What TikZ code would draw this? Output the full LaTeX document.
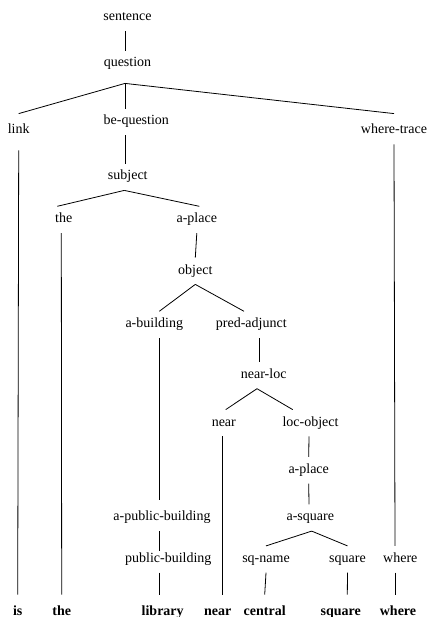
\documentclass[tikz,border=0pt]{standalone}
\usepackage{fontspec}
\setmainfont{Liberation Serif}
\begin{document}
\begin{tikzpicture}[x=1pt,y=-1pt,line width=0.8pt,
  font=\fontsize{14}{16}\selectfont,
  cat/.style={anchor=base,inner xsep=0pt,inner ysep=6pt,text height=10pt,text depth=4pt},
  word/.style={cat,inner ysep=10pt,font=\fontsize{14}{16}\selectfont\bfseries}]
\useasboundingbox (0,0) rectangle (427,617);
% categories
\node[cat] (sentence) at (127.5,21) {sentence};
\node[cat] (question) at (127.5,67) {question};
\node[cat] (link) at (18.7,134) {link};
\node[cat] (bequestion) at (136.3,125) {be-question};
\node[cat] (wheretrace) at (394,134) {where-trace};
\node[cat] (subject) at (127.8,180) {subject};
\node[cat] (the) at (63.7,222.7) {the};
\node[cat] (aplace) at (196.8,222.7) {a-place};
\node[cat] (object) at (195.3,274) {object};
\node[cat] (abuilding) at (154.3,327.7) {a-building};
\node[cat] (predadj) at (251.3,327.7) {pred-adjunct};
\node[cat] (nearloc) at (263.7,378.3) {near-loc};
\node[cat] (near) at (223.8,426) {near};
\node[cat] (locobj) at (310.5,426) {loc-object};
\node[cat] (aplaceb) at (308.7,473.3) {a-place};
\node[cat] (asquare) at (310.3,520.7) {a-square};
\node[cat] (apubbld) at (162,520.7) {a-public-building};
\node[cat] (pubbld) at (168.3,562.3) {public-building};
\node[cat] (sqname) at (266,562.3) {sq-name};
\node[cat] (square) at (347.5,562.3) {square};
\node[cat] (where) at (400.3,562.3) {where};
% words
\node[word] (wis) at (17.7,615) {is};
\node[word] (wthe) at (61.7,615) {the};
\node[word] (wlibrary) at (162.7,615) {library};
\node[word] (wnear) at (217.7,615) {near};
\node[word] (wcentral) at (264.7,615) {central};
\node[word] (wsquare) at (340.8,615) {square};
\node[word] (wwhere) at (398,615) {where};
% branches
\draw ([xshift=-2]sentence.south) -- ([xshift=-2]question.north);
\draw ([xshift=-2.5,yshift=-6]question.south) -- ([yshift=4]link.north);
\draw ([xshift=-2.5,yshift=-6]question.south) -- ([xshift=-11.3]bequestion.north);
\draw ([xshift=-2.5,yshift=-6]question.south) -- ([yshift=4]wheretrace.north);
\draw ([yshift=-6]link.south) -- (wis.north);
\draw (wheretrace.south) -- ([xshift=-5.3]where.north);
\draw ([xshift=-5.3]where.south) -- ([xshift=-3]wwhere.north);
\draw ([xshift=-11.3]bequestion.south) -- ([xshift=-2.8]subject.north);
\draw ([xshift=-3.5]subject.south) -- ([xshift=-6.4]the.north);
\draw ([xshift=-3.5]subject.south) -- ([xshift=2.5]aplace.north);
\draw ([xshift=-2.4]the.south) -- (wthe.north);
\draw (aplace.south) -- (object.north);
\draw (object.south) -- ([xshift=5]abuilding.north);
\draw (object.south) -- ([xshift=-7.3]predadj.north);
\draw ([xshift=5]abuilding.south) -- ([xshift=-2.7,yshift=4]apubbld.north);
\draw ([xshift=-2.7]apubbld.south) -- ([xshift=-9,yshift=-5]pubbld.north);
\draw ([xshift=-9]pubbld.south) -- ([xshift=-3.4]wlibrary.north);
\draw ([xshift=7.7]predadj.south) -- ([xshift=-4.7]nearloc.north);
\draw ([xshift=-6.7]nearloc.south) -- ([xshift=1.9]near.north);
\draw ([xshift=-6.7]nearloc.south) -- ([xshift=-17.8]locobj.north);
\draw ([xshift=-1.8]near.south) -- ([xshift=4.3]wnear.north);
\draw ([xshift=-1.5]locobj.south) -- (aplaceb.north);
\draw (aplaceb.south) -- ([xshift=-1.3]asquare.north);
\draw ([xshift=1.4]asquare.south) -- (sqname.north);
\draw ([xshift=1.4]asquare.south) -- (square.north);
\draw (sqname.south) -- (wcentral.north);
\draw (square.south) -- ([xshift=6.5]wsquare.north);
\end{tikzpicture}
\end{document}
